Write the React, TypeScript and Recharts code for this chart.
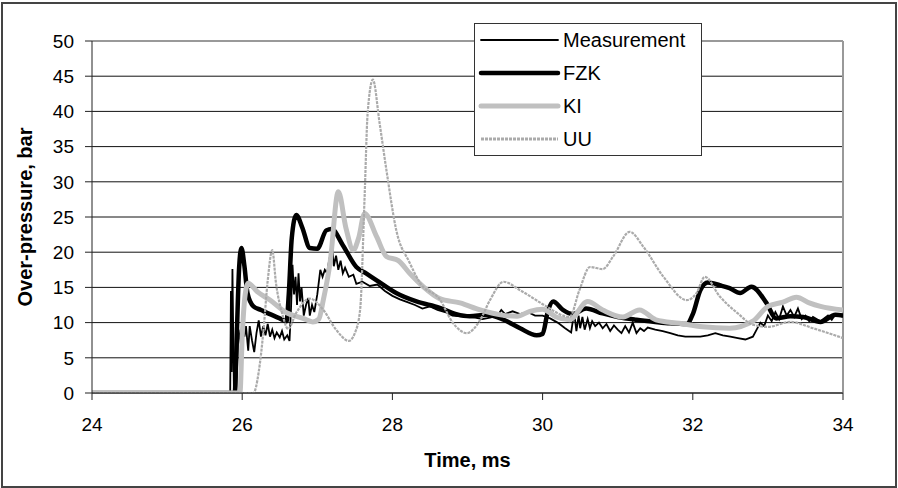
import { LineChart, Line, XAxis, YAxis, CartesianGrid, ReferenceLine, Legend, Label } from 'recharts'

// time (ms), over-pressure (bar)
const MEASUREMENT: [number, number][] = [
  [24, 0], [25.84, 0], [25.85, 14.5], [25.86, 3], [25.87, 17.6], [25.89, 0], [25.92, 0],
  [25.95, 9], [25.98, 7], [26.0, 10], [26.03, 8], [26.05, 9.5], [26.08, 6], [26.1, 9.5],
  [26.13, 7.5], [26.16, 5.8], [26.19, 8.5], [26.22, 10.3], [26.25, 8], [26.28, 9.5],
  [26.31, 8.2], [26.34, 9.8], [26.37, 8], [26.4, 9], [26.43, 7.8], [26.46, 8.6], [26.5, 7.9],
  [26.53, 8.8], [26.56, 7.6], [26.6, 8.2], [26.63, 7.4], [26.65, 12], [26.67, 18.2],
  [26.69, 14], [26.71, 16.5], [26.73, 12.5], [26.75, 17], [26.77, 13], [26.79, 15],
  [26.82, 11], [26.85, 12.5], [26.88, 13.5], [26.9, 11], [26.93, 12.5], [26.96, 11.5],
  [27.0, 14], [27.04, 17.5], [27.07, 16.5], [27.1, 17.5], [27.13, 17], [27.16, 19],
  [27.2, 20.8], [27.22, 18], [27.25, 19.5], [27.28, 17.5], [27.31, 18.8], [27.34, 17],
  [27.37, 17.8], [27.42, 16.5], [27.48, 16.8], [27.52, 15.5], [27.6, 15.8], [27.7, 15.2],
  [27.8, 15.4], [27.9, 14.5], [28.0, 13.8], [28.1, 13.3], [28.2, 12.9], [28.3, 12.5],
  [28.4, 12], [28.5, 12.3], [28.6, 11.8], [28.7, 11.5], [28.8, 11], [28.9, 10.9],
  [29.0, 10.8], [29.1, 10.7], [29.2, 10.5], [29.3, 10.7], [29.4, 11], [29.45, 11.8],
  [29.5, 11.2], [29.6, 11.6], [29.7, 11.2], [29.8, 11.5], [29.9, 11], [30.0, 11],
  [30.1, 10.6], [30.2, 10], [30.3, 9.2], [30.38, 8.6], [30.42, 11.5], [30.45, 8.8],
  [30.48, 11], [30.5, 9.2], [30.53, 10.8], [30.56, 9], [30.6, 10.5], [30.63, 9.2],
  [30.66, 10.2], [30.7, 9.5], [30.75, 10], [30.8, 9.2], [30.85, 9.8], [30.9, 8.8],
  [30.95, 9.6], [31.0, 9], [31.05, 8.5], [31.1, 9.5], [31.15, 8.6], [31.2, 10],
  [31.25, 8.5], [31.3, 9.2], [31.35, 8.8], [31.4, 9.3], [31.5, 9], [31.6, 8.8],
  [31.7, 8.5], [31.8, 8.2], [31.9, 8], [32.0, 8], [32.1, 8], [32.2, 8.2], [32.3, 8.5],
  [32.4, 8.2], [32.5, 8], [32.6, 7.8], [32.7, 7.6], [32.8, 8], [32.85, 9], [32.9, 10],
  [32.95, 9.5], [33.0, 11], [33.05, 10.2], [33.1, 11.5], [33.15, 10.5], [33.2, 12.3],
  [33.25, 11], [33.3, 11.8], [33.35, 10.8], [33.4, 12], [33.45, 10.5], [33.5, 11],
  [33.55, 10.2], [33.6, 10.8], [33.7, 10.2], [33.8, 11], [33.85, 10.4], [33.9, 11.2],
  [34.0, 10.8],
]

const FZK: [number, number][] = [
  [24, 0], [25.9, 0], [25.93, 9], [25.96, 18], [25.99, 20.6], [26.03, 18], [26.07, 14.2],
  [26.15, 12.3], [26.25, 11.8], [26.37, 11.2], [26.5, 10.6], [26.59, 10.2], [26.62, 14],
  [26.66, 22], [26.72, 25.3], [26.8, 23.5], [26.9, 20.6], [27.0, 20.5], [27.12, 23.1],
  [27.19, 23.3], [27.34, 21], [27.52, 17.9], [27.65, 17], [27.79, 16], [28.05, 14.2],
  [28.32, 13], [28.63, 12.1], [28.85, 11.2], [29.03, 10.9], [29.25, 11.1], [29.48, 10.4],
  [29.7, 9.2], [29.92, 8.2], [30.0, 8.4], [30.07, 11.6], [30.14, 13], [30.27, 11.8],
  [30.4, 11.2], [30.58, 12], [30.8, 11.3], [31.0, 10.8], [31.25, 10.4], [31.5, 10.1],
  [31.7, 9.9], [31.92, 9.8], [32.0, 11.2], [32.1, 14.6], [32.2, 15.7], [32.36, 15.3],
  [32.49, 14.9], [32.63, 14.2], [32.78, 15.1], [32.98, 12.8], [33.11, 10.6], [33.3, 10.9],
  [33.47, 10.8], [33.7, 10.1], [33.9, 11.1], [34.0, 11],
]

const KI: [number, number][] = [
  [24, 0], [25.97, 0], [26.0, 8], [26.04, 14], [26.08, 15.6], [26.2, 14.4], [26.37, 13.2],
  [26.59, 11.4], [26.81, 10.6], [26.94, 10.1], [27.02, 10.5], [27.08, 13.2], [27.17, 18.5],
  [27.28, 28.6], [27.38, 23.5], [27.48, 20.3], [27.55, 22], [27.63, 25.5], [27.79, 22.2],
  [27.92, 19.4], [28.08, 18.8], [28.23, 17], [28.41, 15.1], [28.63, 13.4], [28.9, 12.8],
  [29.17, 11.8], [29.44, 11.1], [29.66, 10.9], [29.83, 11.6], [30.0, 11.9], [30.18, 10.8],
  [30.36, 10.4], [30.6, 13], [30.8, 11.8], [31.07, 10.8], [31.29, 11.8], [31.51, 10.4],
  [31.82, 9.9], [32.13, 9.4], [32.49, 9.2], [32.8, 10.2], [33.0, 12.3], [33.2, 12.9],
  [33.38, 13.6], [33.55, 12.8], [33.7, 12.3], [34.0, 11.8],
]

const UU: [number, number][] = [
  [24, 0], [26.15, 0], [26.22, 3], [26.28, 8.5], [26.34, 16], [26.4, 20.3], [26.45, 15.6],
  [26.54, 11], [26.61, 9.1], [26.72, 11.4], [26.9, 13.4], [27.08, 11.8], [27.25, 9],
  [27.42, 7.4], [27.5, 8.5], [27.57, 11.8], [27.63, 27.9], [27.67, 39.7], [27.74, 44.5],
  [27.83, 38.3], [27.92, 31.7], [28.05, 23.2], [28.23, 18.5], [28.37, 15.6], [28.63, 13.3],
  [28.81, 9.9], [28.99, 8.5], [29.17, 10.4], [29.3, 13.2], [29.48, 15.8], [29.7, 14.6],
  [30.05, 12.3], [30.27, 11], [30.36, 10.8], [30.49, 14.6], [30.63, 17.9], [30.8, 17.6],
  [30.94, 19.4], [31.16, 22.9], [31.34, 20.8], [31.61, 16.5], [31.92, 13.2], [32.05, 14.2],
  [32.16, 16.5], [32.36, 13.7], [32.6, 11.3], [32.8, 9.7], [33.0, 9.4], [33.3, 10.1],
  [33.6, 9.2], [34.0, 7.8],
]

const X_TICKS = [24, 26, 28, 30, 32, 34]
const Y_TICKS = [0, 5, 10, 15, 20, 25, 30, 35, 40, 45, 50]

const FONT = '"Liberation Sans", Arial, sans-serif'

const SERIES = [
  { name: 'Measurement', data: MEASUREMENT, color: '#000', width: 1.8, dash: undefined, type: 'linear' as const },
  { name: 'FZK', data: FZK, color: '#000', width: 4.5, dash: undefined, type: 'monotone' as const },
  { name: 'KI', data: KI, color: '#c0c0c0', width: 5, dash: undefined, type: 'monotone' as const },
  { name: 'UU', data: UU, color: '#ababab', width: 2.2, dash: '3 1', type: 'monotone' as const },
]

function LegendBox() {
  return (
    <div
      style={{
        width: 228,
        height: 133,
        boxSizing: 'border-box',
        border: '1px solid #333',
        background: '#fff',
        position: 'relative',
      }}
    >
      <svg width={226} height={131} style={{ position: 'absolute', left: 0, top: 0 }}>
        {SERIES.map((s, i) => {
          const y = 16 + i * 33
          return (
            <g key={s.name}>
              <line
                x1={6}
                x2={83}
                y1={y}
                y2={y}
                stroke={s.color}
                strokeWidth={s.name === 'UU' ? 3 : s.width}
                strokeDasharray={s.dash}
                strokeLinecap={s.dash ? 'butt' : 'round'}
              />
              <text x={88} y={y + 7} fontSize={20} fontFamily={FONT} fill="#000">
                {s.name}
              </text>
            </g>
          )
        })}
      </svg>
    </div>
  )
}

export default function App() {
  return (
    <div style={{ position: 'absolute', left: 0, top: 0, width: 898, height: 488, background: '#fff' }}>
      <LineChart
        width={898}
        height={488}
        margin={{ top: 41, right: 55, left: 0, bottom: 0 }}
        style={{ fontFamily: FONT }}
      >
        <CartesianGrid horizontal vertical={false} stroke="#111" strokeOpacity={1} />
        <XAxis
          type="number"
          dataKey="t"
          domain={[24, 34]}
          ticks={X_TICKS}
          allowDataOverflow
          height={95}
          tickSize={7}
          tickMargin={18}
          stroke="#222"
          tick={{ fill: '#000', fontSize: 19 }}
        >
          <Label value="Time, ms" position="insideBottom" offset={21} fill="#000" fontSize={20} fontWeight="bold" />
        </XAxis>
        <YAxis
          type="number"
          dataKey="v"
          domain={[0, 50]}
          ticks={Y_TICKS}
          allowDataOverflow
          width={92}
          tickSize={7}
          tickMargin={11}
          stroke="#222"
          tick={{ fill: '#000', fontSize: 19 }}
        >
          <Label
            value="Over-pressure, bar"
            angle={-90}
            position="insideLeft"
            offset={25}
            fill="#000"
            fontSize={20}
            fontWeight="bold"
            style={{ textAnchor: 'middle' }}
          />
        </YAxis>
        <ReferenceLine y={50} stroke="#999" strokeWidth={2} />
        <ReferenceLine x={34} stroke="#999" strokeWidth={2} />
        {SERIES.map((s) => (
          <Line
            key={s.name}
            name={s.name}
            data={s.data.map(([t, v]) => ({ t, v }))}
            dataKey="v"
            type={s.type}
            stroke={s.color}
            strokeWidth={s.width}
            strokeDasharray={s.dash}
            dot={false}
            activeDot={false}
            isAnimationActive={false}
          />
        ))}
        <Legend
          layout="vertical"
          align="center"
          verticalAlign="middle"
          content={() => <LegendBox />}
          wrapperStyle={{ left: 474, top: 23, width: 228, height: 133 }}
        />
      </LineChart>
      <div
        style={{
          position: 'absolute',
          left: 1,
          top: 2,
          width: 896,
          height: 486,
          boxSizing: 'border-box',
          border: '2px solid #444',
          pointerEvents: 'none',
        }}
      />
    </div>
  )
}
